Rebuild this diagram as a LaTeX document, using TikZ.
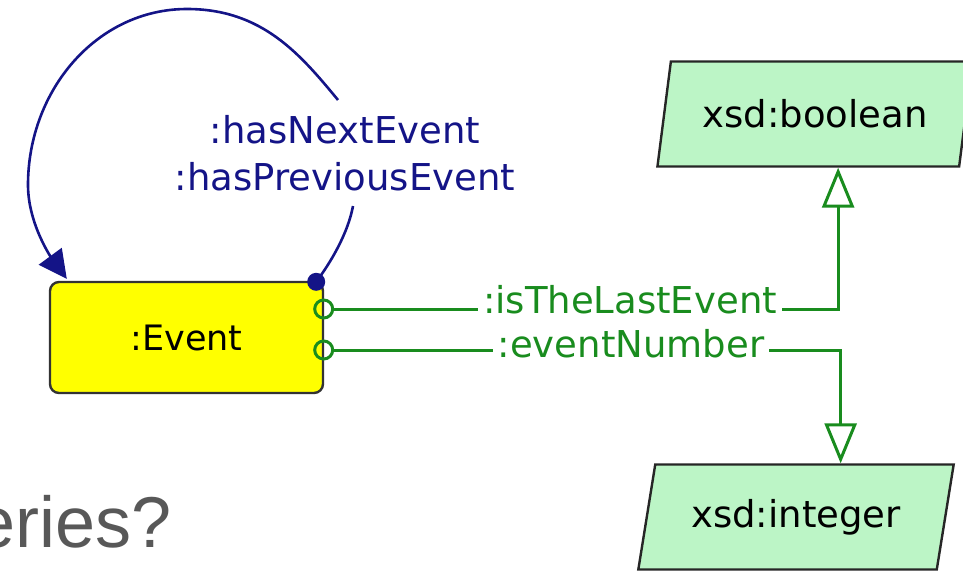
\documentclass[tikz,border=0pt]{standalone}
\usepackage{fontspec}
\setmainfont{DejaVu Sans}
\newfontfamily\slidefont{Liberation Sans}
\usetikzlibrary{arrows.meta,shapes.geometric}

\definecolor{evtyellow}{RGB}{255,255,0}
\definecolor{xsdgreen}{RGB}{188,245,198}
\definecolor{proplink}{RGB}{25,140,30}
\definecolor{objlink}{RGB}{20,20,135}
\definecolor{slidegray}{RGB}{88,88,88}

\tikzset{
  classbox/.style={draw=black!80, line width=2.4pt, fill=evtyellow, rounded corners=9pt,
    minimum width=273pt, minimum height=111pt, font=\fontsize{35}{42}\selectfont},
  datatype/.style={trapezium, trapezium left angle=73, trapezium right angle=107,
    trapezium stretches=true, draw=black!85, line width=2.4pt, fill=xsdgreen,
    minimum width=316pt, minimum height=105pt, font=\fontsize{37}{44}\selectfont},
  objlabel/.style={text=objlink, font=\fontsize{37}{47}\selectfont, align=center,
    inner xsep=2pt, inner ysep=15pt},
  datalabel/.style={text=proplink, font=\fontsize{37}{44}\selectfont, inner sep=5pt, anchor=base},
  objedge/.style={draw=objlink, line width=2.6pt},
  dataedge/.style={draw=proplink, line width=3pt}
}

\begin{document}
\begin{tikzpicture}[x=1pt,y=-1pt]
\clip (0,0) rectangle (963,571);

\node[classbox] (event) at (186.5,337.5) {:Event};
\node[datatype] (boolean) at (815,114) {xsd:boolean};
\node[datatype] (integer) at (796,517) {xsd:integer};

\node[objlabel] (nextprev) at (345,153) {:hasNextEvent\\:hasPreviousEvent};
\node[datalabel] (lastevent) at (630,313) {:isTheLastEvent};
\node[datalabel] (evnumber) at (631,357) {:eventNumber};

\node[text=slidegray, font=\slidefont\fontsize{72}{80}\selectfont, inner sep=0pt,
  anchor=base east] (queries) at (172,547) {eries?};

% self loop on :Event
\coordinate (dot) at ([xshift=-8pt,yshift=-1pt]event.north east);
\draw[objedge] (dot) .. controls +(15,-20) and +(-5,27) .. ([xshift=8pt]nextprev.south);
\draw[objedge, -{Triangle[length=28pt,width=28pt]}] ([xshift=-7pt]nextprev.north)
  .. controls +(-38,-46) and +(75,0) .. (187,9)
  .. controls (97,9) and (28,90) .. (28,185)
  .. controls (28,225) and (53,260) .. ([xshift=18pt,yshift=2pt]event.north west);
\fill[objlink] (dot) circle (9pt);

% datatype properties
\draw[dataedge, {Circle[open,length=21pt,width=21pt]}-] ([xshift=-11pt,yshift=28.5pt]event.east)
  coordinate (p1) -- (p1 -| lastevent.west);
\draw[dataedge, -{Triangle[open,length=40pt,width=32pt]}] (lastevent.east |- p1)
  -| ([xshift=30pt]boolean.bottom side);

\draw[dataedge, {Circle[open,length=21pt,width=21pt]}-] ([xshift=-11pt,yshift=-12.5pt]event.east)
  coordinate (p2) -- (p2 -| evnumber.west);
\draw[dataedge, -{Triangle[open,length=40pt,width=32pt]}] (evnumber.east |- p2)
  -| ([xshift=36pt]integer.top side);

\end{tikzpicture}
\end{document}
